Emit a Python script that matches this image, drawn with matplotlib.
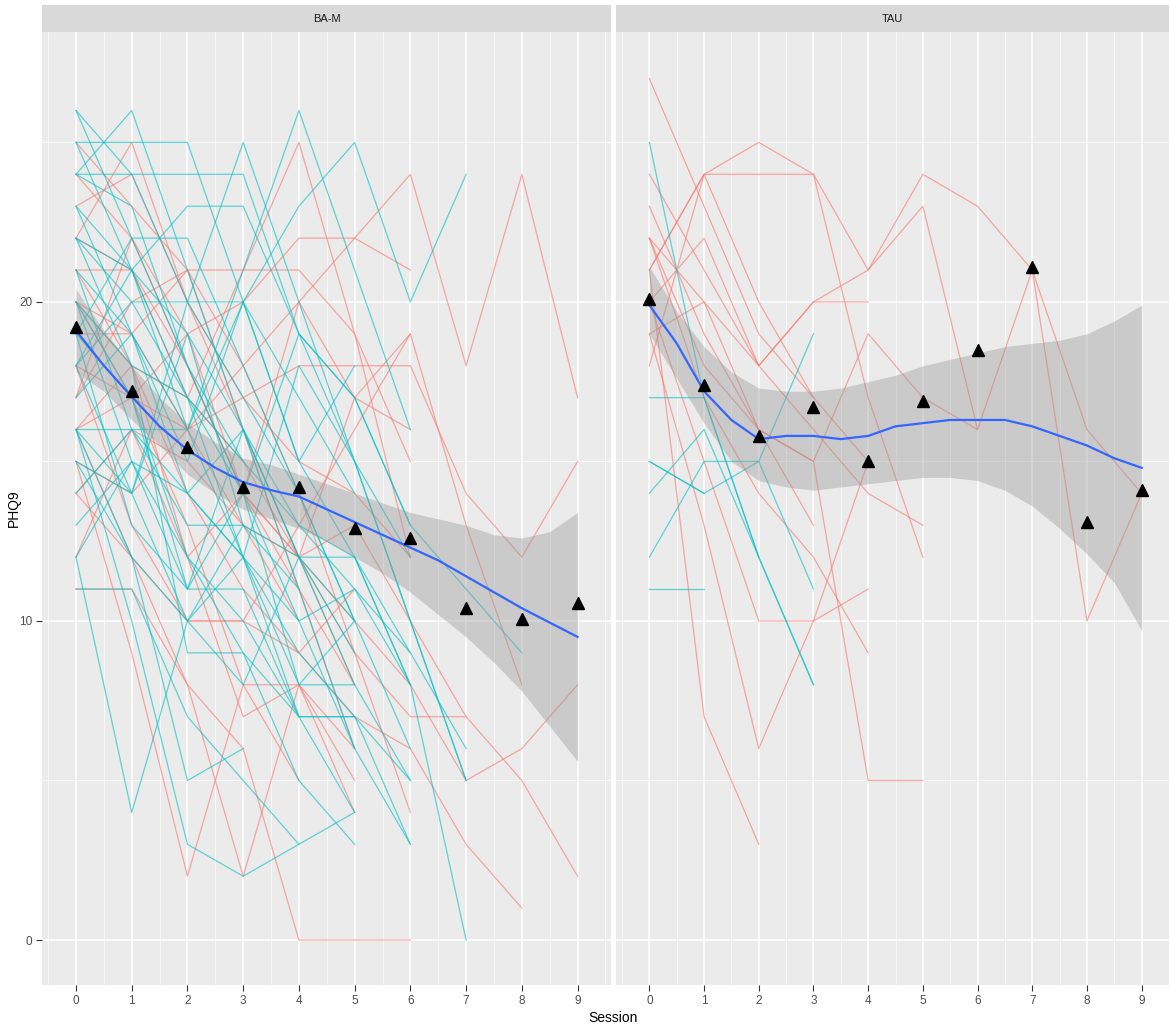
import numpy as np
import matplotlib
matplotlib.use("Agg")
import matplotlib.pyplot as plt

plt.rcParams['font.family'] = ['Liberation Sans', 'DejaVu Sans']

sessions = np.arange(10)
half_steps = np.arange(0, 9.5, 0.5)

RED = "#F8766D"
TEAL = "#00BFC4"

# individual trajectories, PHQ9 at session 0..9 (shorter lists = dropped out)
bam_teal = [
    [26, 22, 18, 14, 10, 6, 3],
    [24, 26, 21, 16, 12, 9],
    [25, 25, 25, 20, 15, 12, 8],
    [24, 24, 24, 24, 19, 15, 10, 5],
    [22, 21, 23, 23, 19, 17, 13],
    [19, 22, 22, 18, 14, 10],
    [18, 20, 20, 20, 17, 14],
    [16, 16, 16, 12, 9, 7],
    [11, 11, 7, 5, 3],
    [12, 4, 10, 13],
    [20, 17, 11, 11, 7, 7, 3],
    [22, 18, 9, 9, 7, 4],
    [16, 10, 3, 2, 3, 4],
    [15, 12, 5, 6],
    [26, 24, 20, 25, 20, 15, 10, 5],
    [23, 19, 16, 21, 26, 21, 16],
    [20, 18, 17, 15, 13, 12, 8, 0],
    [21, 19, 15, 20, 23, 25, 20, 24],
    [19, 13, 11, 16, 12, 8, 5],
    [18, 14, 10, 12, 8, 8],
    [16, 12, 10, 8, 12, 12, 9],
    [14, 16, 13, 13, 12, 10],
    [13, 15, 12, 10, 7, 7, 5],
    [22, 20, 17, 14, 19, 17, 13, 11, 9],
    [25, 21, 19, 16, 13, 11, 8],
    [20, 15, 11, 14, 8, 10],
    [18, 21, 17, 12, 10, 11, 9, 6],
    [15, 14, 19, 13, 11],
    [17, 19, 14, 12, 7],
    [24, 23, 18, 15],
    [23, 21, 16, 20, 15, 18],
    [12, 15, 14, 16, 11, 6],
    [21, 16, 14, 12, 18, 15, 12],
    [19, 17, 12, 9, 5, 3],
    [16, 14, 20, 17, 14, 10, 6],
]
bam_red = [
    [21, 21, 18, 14, 11, 8],
    [19, 19, 16, 13, 10],
    [22, 25, 20, 16, 12, 8],
    [17, 20, 21, 21, 21, 19, 15],
    [20, 18, 17, 21, 25, 19, 12],
    [16, 17, 19, 20, 22, 22, 21],
    [15, 14, 16, 17, 18, 18, 18, 14, 12, 15],
    [20, 17, 16, 18, 20, 22, 24, 18, 24, 17],
    [14, 12, 10, 10, 13, 16, 19, 13, 8],
    [16, 12, 8, 6, 0, 0, 0],
    [11, 11, 8, 2, 8, 6],
    [15, 9, 2, 8, 8, 5],
    [18, 13, 10, 10, 9, 11],
    [24, 22, 18, 14, 12, 10, 8, 5, 6, 8],
    [21, 18, 14, 11, 9, 7, 6, 3, 1],
    [22, 21, 17, 15, 12, 13, 10, 7, 5, 2],
    [23, 24, 20, 17, 15, 14, 12],
    [12, 16, 15, 13, 12, 9, 7, 7],
    [17, 22, 19, 14, 12, 17, 16],
    [25, 23, 21, 18, 14, 9, 4],
    [16, 18, 12, 14, 20, 17, 19],
    [20, 19, 21, 16, 11, 6],
    [14, 16, 12, 7, 8, 4],
    [18, 17, 13, 8, 5],
]
tau_red = [
    [27, 23, 19, 17],
    [18, 24, 25, 24, 21, 24, 23, 21, 10, 14],
    [21, 24, 24, 24, 17, 12],
    [22, 20, 18, 20, 21, 23, 16, 21, 16, 14],
    [22, 18, 16, 15, 19, 17, 16],
    [20, 22, 18, 20, 20],
    [24, 21, 18, 16, 14, 13],
    [19, 13, 6, 10, 15],
    [21, 7, 3],
    [20, 15, 10, 10, 11],
    [22, 17, 14, 12, 9],
    [23, 19, 16, 15, 5, 5],
    [21, 24, 20, 17, 15],
    [19, 20, 16, 13],
]
tau_teal = [
    [25, 17, 12, 8],
    [17, 17, 12, 8],
    [11, 11],
    [12, 15, 15, 19],
    [15, 14, 15, 11],
    [14, 16, 12],
    [15, 14],
]

# session means (triangles)
bam_means = [19.2, 17.2, 15.45, 14.2, 14.2, 12.9, 12.6, 10.4, 10.05, 10.55]
tau_means = [20.1, 17.4, 15.8, 16.7, 15.0, 16.9, 18.5, 21.1, 13.1, 14.1]

# loess fit and its confidence band, read at half sessions
bam_fit = [19.1, 18.0, 17.03, 16.1, 15.36, 14.8, 14.35, 14.1, 13.9, 13.5,
           13.1, 12.7, 12.3, 11.9, 11.4, 10.9, 10.4, 9.95, 9.5]
bam_lo = [17.8, 17.2, 16.3, 15.5, 14.6, 14.0, 13.5, 13.2, 12.9, 12.5,
          12.0, 11.5, 10.9, 10.2, 9.5, 8.7, 7.8, 6.7, 5.6]
bam_hi = [20.4, 19.1, 18.0, 17.0, 16.2, 15.6, 15.1, 14.9, 14.6, 14.3,
          14.0, 13.7, 13.4, 13.2, 13.0, 12.7, 12.6, 12.8, 13.4]
tau_fit = [19.9, 18.7, 17.2, 16.3, 15.7, 15.8, 15.8, 15.7, 15.8, 16.1,
           16.2, 16.3, 16.3, 16.3, 16.1, 15.8, 15.5, 15.1, 14.8]
tau_lo = [19.0, 17.6, 16.2, 15.0, 14.4, 14.2, 14.1, 14.2, 14.3, 14.4,
          14.5, 14.5, 14.4, 14.1, 13.6, 12.9, 12.1, 11.2, 9.7]
tau_hi = [21.1, 19.7, 18.6, 17.8, 17.3, 17.2, 17.2, 17.3, 17.5, 17.7,
          18.0, 18.2, 18.4, 18.6, 18.7, 18.8, 19.0, 19.4, 19.9]


def pad(row):
    return np.array(row + [np.nan] * (10 - len(row)), dtype=float)


fig = plt.figure(figsize=(11.69, 10.27), dpi=100)
W, H = 1169, 1027
top, bottom = 32, 985
panels = [
    ("BA-M", 42, 611, 9.6, bam_red, bam_teal, bam_means, bam_fit, bam_lo, bam_hi),
    ("TAU", 616, 1169, 9.33, tau_red, tau_teal, tau_means, tau_fit, tau_lo, tau_hi),
]

for i, (name, x0, x1, xmax, reds, teals, means, fit, lo, hi) in enumerate(panels):
    ax = fig.add_axes([x0 / W, 1 - bottom / H, (x1 - x0) / W, (bottom - top) / H])
    ax.set_facecolor("#EBEBEB")
    for s in ax.spines.values():
        s.set_visible(False)
    ax.set_xlim(-0.61, xmax)
    ax.set_ylim(-1.41, 28.46)
    ax.set_xticks(sessions)
    ax.set_xticks(np.arange(-0.5, 10, 1), minor=True)
    ax.set_yticks([0, 10, 20])
    ax.set_yticks([5, 15, 25], minor=True)
    ax.grid(which="major", color="white", linewidth=1.1)
    ax.grid(which="minor", color="white", linewidth=0.5)
    ax.set_axisbelow(True)
    ax.tick_params(which="minor", length=0)
    ax.tick_params(which="major", length=4, width=0.8, color="#333333",
                   labelsize=8.5, labelcolor="#4D4D4D", pad=3)
    if i > 0:
        ax.tick_params(axis="y", left=False, labelleft=False)

    for row in reds:
        ax.plot(sessions, pad(row), color=RED, alpha=0.6, linewidth=0.9, zorder=1)
    for row in teals:
        ax.plot(sessions, pad(row), color=TEAL, alpha=0.6, linewidth=0.9, zorder=1)

    ax.fill_between(half_steps, lo, hi, color="#999999", alpha=0.4,
                    linewidth=0, zorder=2)
    ax.plot(half_steps, fit, color="#3366FF", linewidth=1.6, zorder=3)
    ax.plot(sessions, means, linestyle="none", marker="^", markersize=8,
            color="black", zorder=4)

    strip = fig.add_axes([x0 / W, 1 - top / H, (x1 - x0) / W, 27 / H])
    strip.set_facecolor("#D9D9D9")
    strip.set_xticks([])
    strip.set_yticks([])
    for s in strip.spines.values():
        s.set_visible(False)
    strip.text(0.5, 0.5, name, ha="center", va="center", fontsize=8,
               color="#1A1A1A", transform=strip.transAxes)

fig.text(613 / W, 1 - 1018 / H, "Session", ha="center", va="center",
         fontsize=10, color="black")
fig.text(14 / W, 1 - 508 / H, "PHQ9", ha="center", va="center",
         rotation=90, fontsize=10, color="black")

fig.savefig("out.png", dpi=100)
